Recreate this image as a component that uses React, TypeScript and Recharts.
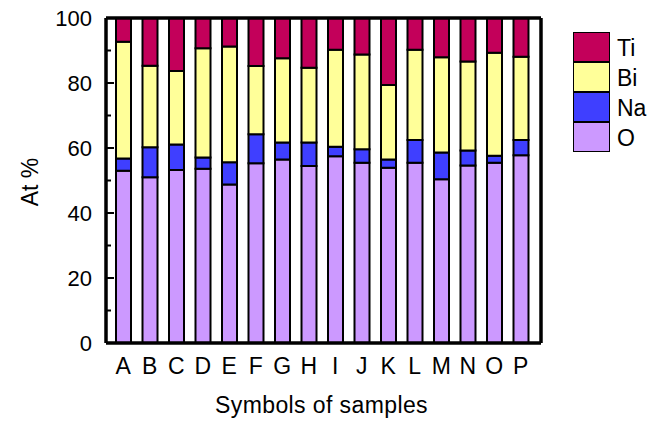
import { Bar, BarChart, Legend, ReferenceLine, XAxis, YAxis } from 'recharts'

const samples = ['A', 'B', 'C', 'D', 'E', 'F', 'G', 'H', 'I', 'J', 'K', 'L', 'M', 'N', 'O', 'P']
const oValues = [53.0, 51.0, 53.2, 53.6, 48.8, 55.3, 56.5, 54.5, 57.5, 55.5, 53.9, 55.5, 50.4, 54.6, 55.5, 57.8]
const naValues = [3.8, 9.2, 7.9, 3.5, 6.8, 8.9, 5.2, 7.2, 2.9, 4.1, 2.6, 7.0, 8.2, 4.6, 2.1, 4.7]
const biValues = [35.9, 25.1, 22.6, 33.6, 35.6, 21.0, 25.9, 23.0, 29.8, 29.2, 22.9, 27.7, 29.3, 27.4, 31.7, 25.6]
const tiValues = [7.3, 14.7, 16.3, 9.3, 8.8, 14.8, 12.4, 15.3, 9.8, 11.2, 20.6, 9.8, 12.1, 13.4, 10.7, 11.9]
const yTicks = [0, 10, 20, 30, 40, 50, 60, 70, 80, 90, 100]

const SERIES = [
  { key: 'O', color: '#cc99ff' },
  { key: 'Na', color: '#3f3fff' },
  { key: 'Bi', color: '#ffff99' },
  { key: 'Ti', color: '#c3005a' },
]

const FONT = '"Liberation Sans", Arial, sans-serif'
const TICK_GAP = 14

const data = samples.map((name, i) => ({
  name,
  O: oValues[i],
  Na: naValues[i],
  Bi: biValues[i],
  Ti: tiValues[i],
}))

function LeftTick(props: any) {
  const { x, y, payload } = props
  const major = payload.value % 20 === 0
  const ax = x + TICK_GAP
  return (
    <g>
      <line x1={ax} x2={ax + (major ? 8 : 5)} y1={y} y2={y} stroke="#000" strokeWidth={2} />
      {major && (
        <text x={x} y={y} textAnchor="end" dominantBaseline="central" fontSize={22} fill="#000" fontFamily={FONT}>
          {payload.value}
        </text>
      )}
    </g>
  )
}

function RightTick(props: any) {
  const { x, y, payload } = props
  const major = payload.value % 20 === 0
  return <line x1={x} x2={x - (major ? 8 : 5)} y1={y} y2={y} stroke="#000" strokeWidth={2} />
}

function XTitle() {
  return (
    <text x={321.5} y={413} textAnchor="middle" fontSize={23} letterSpacing={0.4} fill="#000" fontFamily={FONT}>
      Symbols of samples
    </text>
  )
}

function YTitle() {
  return (
    <text
      x={30}
      y={182}
      transform="rotate(-90, 30, 182)"
      textAnchor="middle"
      dominantBaseline="central"
      fontSize={23}
      fill="#000"
      fontFamily={FONT}
    >
      At %
    </text>
  )
}

function LegendBox() {
  const items = [...SERIES].reverse()
  return (
    <div style={{ fontFamily: FONT }}>
      {items.map((item) => (
        <div key={item.key} style={{ display: 'flex', alignItems: 'center', height: 30 }}>
          <div
            style={{
              width: 35,
              height: 28,
              background: item.color,
              border: '1.5px solid #000',
              marginTop: -1.5,
            }}
          />
          <span style={{ marginLeft: 7, fontSize: 23, color: '#000' }}>{item.key}</span>
        </div>
      ))}
    </div>
  )
}

export default function App() {
  return (
    <div style={{ position: 'absolute', left: 0, top: 0, width: 653, height: 423, background: '#fff' }}>
      <BarChart
        width={653}
        height={423}
        data={data}
        margin={{ top: 18, right: 0, left: 0, bottom: 0 }}
        barSize={15}
        style={{ fontFamily: FONT }}
      >
        <XAxis
          dataKey="name"
          height={80}
          padding={{ left: 4, right: 7 }}
          tickLine={false}
          tickSize={0}
          tickMargin={15}
          axisLine={{ stroke: '#000', strokeWidth: 3.5 }}
          tick={{ fill: '#000', fontSize: 23 }}
          interval={0}
          label={<XTitle />}
        />
        <YAxis
          yAxisId="left"
          width={106}
          domain={[0, 100]}
          ticks={yTicks}
          interval={0}
          tickLine={false}
          tickSize={0}
          tickMargin={TICK_GAP}
          axisLine={{ stroke: '#000', strokeWidth: 3.5 }}
          tick={<LeftTick />}
          label={<YTitle />}
        />
        <YAxis
          yAxisId="right"
          orientation="right"
          width={112}
          domain={[0, 100]}
          ticks={yTicks}
          interval={0}
          tickLine={false}
          tickSize={0}
          tickMargin={0}
          axisLine={{ stroke: '#000', strokeWidth: 3.5 }}
          tick={<RightTick />}
        />
        <ReferenceLine yAxisId="left" y={100} stroke="#000" strokeWidth={3.5} />
        {SERIES.map((s) => (
          <Bar
            key={s.key}
            yAxisId="left"
            dataKey={s.key}
            name={s.key}
            stackId="a"
            fill={s.color}
            stroke="#000"
            strokeWidth={2}
            isAnimationActive={false}
          />
        ))}
        <Legend
          layout="horizontal"
          align="center"
          verticalAlign="middle"
          content={<LegendBox />}
          wrapperStyle={{ position: 'absolute', left: 573, top: 33, width: 80, height: 125 }}
        />
      </BarChart>
    </div>
  )
}
